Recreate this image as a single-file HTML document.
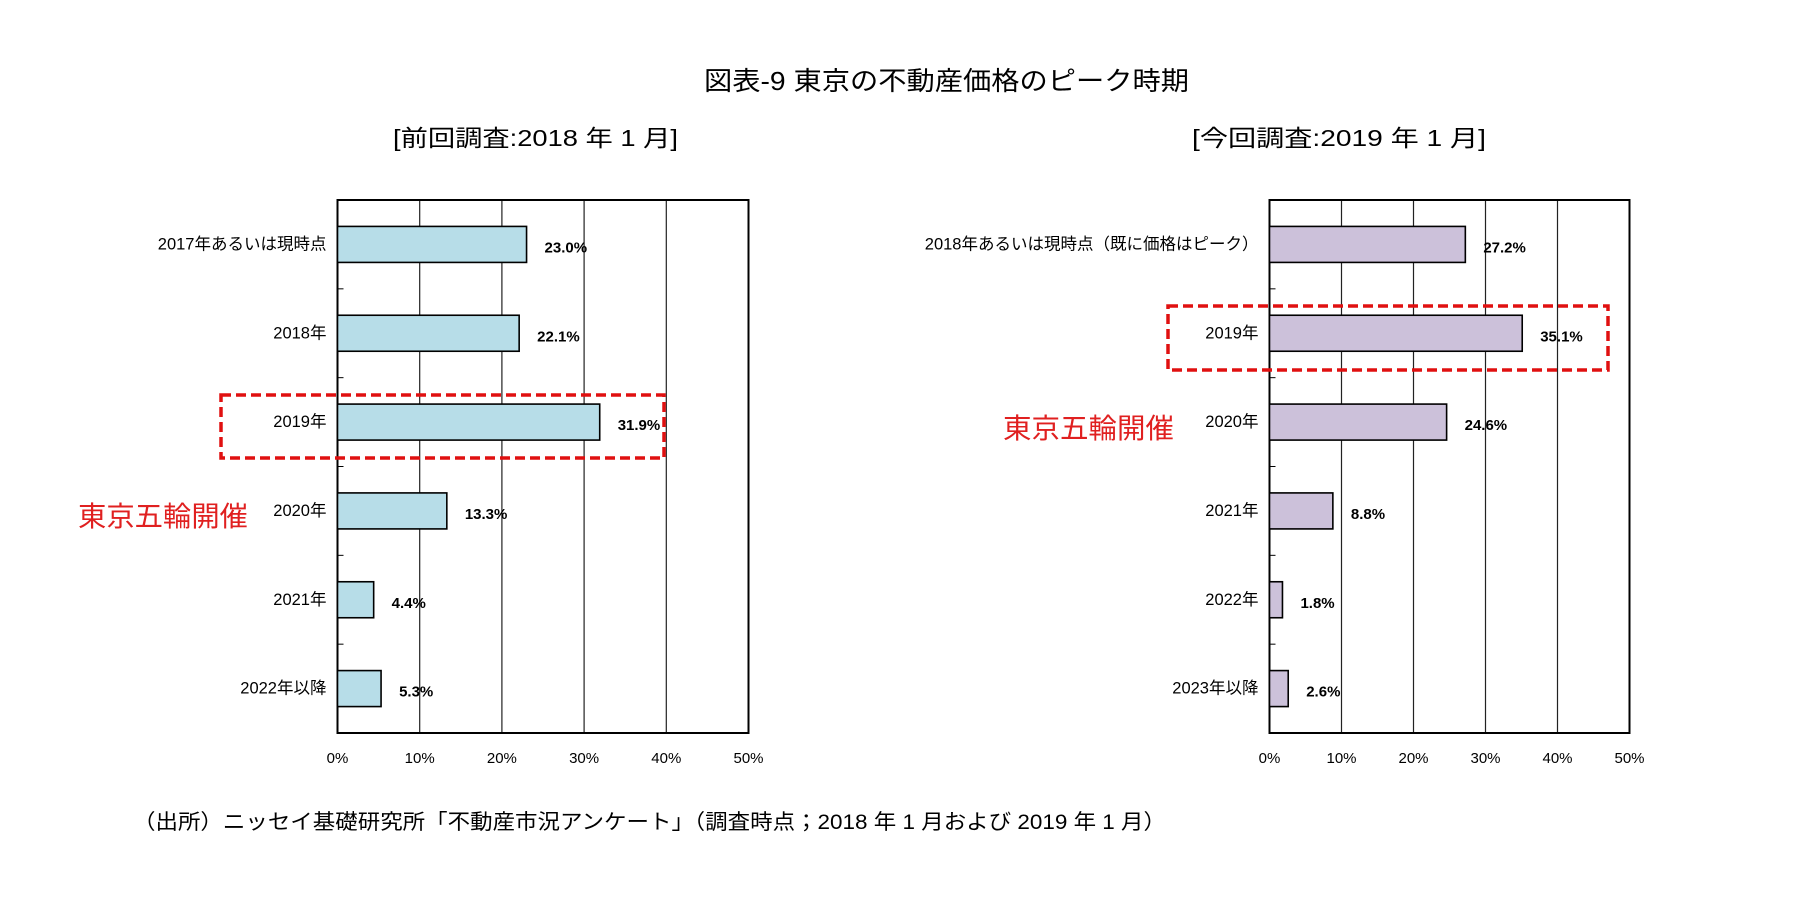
<!DOCTYPE html>
<html><head><meta charset="utf-8">
<style>
html,body{margin:0;padding:0;background:#fff;}
svg{display:block;font-family:"Liberation Sans","Noto Sans CJK JP",sans-serif;}
</style></head>
<body>
<svg id="chart" width="1810" height="898" viewBox="0 0 1810 898" xmlns="http://www.w3.org/2000/svg">
<text x="704" y="90" font-size="26" textLength="485" lengthAdjust="spacingAndGlyphs" fill="#000">図表-9  東京の不動産価格のピーク時期</text>
<text x="393" y="146" font-size="23" textLength="285" lengthAdjust="spacingAndGlyphs" fill="#000">[前回調査:2018 年 1 月]</text>
<text x="1192" y="146" font-size="23" textLength="294" lengthAdjust="spacingAndGlyphs" fill="#000">[今回調査:2019 年 1 月]</text>
<text x="133" y="829" font-size="21" textLength="1033" lengthAdjust="spacingAndGlyphs" fill="#000">（出所）ニッセイ基礎研究所「不動産市況アンケート」（調査時点；2018 年 1 月および 2019 年 1 月）</text>
<g id="left"></g>
<g id="right"></g>
<rect x="221" y="395" width="443" height="63" fill="none" stroke="#e01010" stroke-width="3.5" stroke-dasharray="10,5"/>
<rect x="1168" y="306" width="440" height="64" fill="none" stroke="#e01010" stroke-width="3.5" stroke-dasharray="10,5"/>
<text x="78" y="526" font-size="28" textLength="170" lengthAdjust="spacingAndGlyphs" fill="#e02020">東京五輪開催</text>
<text x="1003" y="438" font-size="28" textLength="171" lengthAdjust="spacingAndGlyphs" fill="#e02020">東京五輪開催</text>
</svg>
<script>
const leftCategories = ["2017年あるいは現時点","2018年","2019年","2020年","2021年","2022年以降"];
const leftValues = [23.0, 22.1, 31.9, 13.3, 4.4, 5.3];
const rightCategories = ["2018年あるいは現時点（既に価格はピーク）","2019年","2020年","2021年","2022年","2023年以降"];
const rightValues = [27.2, 35.1, 24.6, 8.8, 1.8, 2.6];
const xTicks = [0, 10, 20, 30, 40, 50];
const xTickLabels = ["0%","10%","20%","30%","40%","50%"];

const NS = "http://www.w3.org/2000/svg";
function mk(parent, tag, attrs, text){
  const e = document.createElementNS(NS, tag);
  for (const k in attrs) e.setAttribute(k, attrs[k]);
  if (text !== undefined) e.textContent = text;
  parent.appendChild(e);
  return e;
}
function draw(gid, cats, vals, x0, x1, fill, prefix){
  const g = document.getElementById(gid);
  const top = 200, bottom = 733, maxV = 50;
  const xs = v => x0 + (v / maxV) * (x1 - x0);
  const band = (bottom - top) / cats.length;
  const ys = i => top + band * (i + 0.5);
  xTicks.forEach((t, i) => {
    if (t > 0 && t < maxV) {
      const gl = mk(g, 'line', {x1:xs(t), x2:xs(t), y1:top, y2:bottom, stroke:'#222', 'stroke-width':1.2});
      
      
    }
    const tl = mk(g, 'text', {x:xs(t), y:763, 'font-size':15, 'text-anchor':'middle', fill:'#000'}, xTickLabels[i]);
    
    
  });
  for (let i = 1; i < cats.length; i++) {
    const tk = mk(g, 'line', {x1:x0, x2:x0+6, y1:top+band*i, y2:top+band*i, stroke:'#000', 'stroke-width':1});
    
    
  }
  const frame = mk(g, 'rect', {x:x0, y:top, width:x1-x0, height:bottom-top, fill:'none', stroke:'#000', 'stroke-width':2});
  
  
  cats.forEach((c, i) => {
    const y = ys(i);
    const bar = mk(g, 'rect', {x:x0, y:y-18, width:xs(vals[i])-x0, height:36, fill:fill, stroke:'#000', 'stroke-width':1.6});
    
    
    const vl = mk(g, 'text', {x:xs(vals[i])+18, y:y+8, 'font-size':15, 'font-weight':'bold', fill:'#000'}, vals[i].toFixed(1) + '%');
    
    
    const cl = mk(g, 'text', {x:x0-11, y:y+5, 'font-size':16.5, 'text-anchor':'end', fill:'#000'}, c);
    
    
  });
}
draw('left', leftCategories, leftValues, 337.5, 748.5, '#b7dde8', 'left');
draw('right', rightCategories, rightValues, 1269.5, 1629.5, '#ccc1da', 'right');
</script>
</body></html>
